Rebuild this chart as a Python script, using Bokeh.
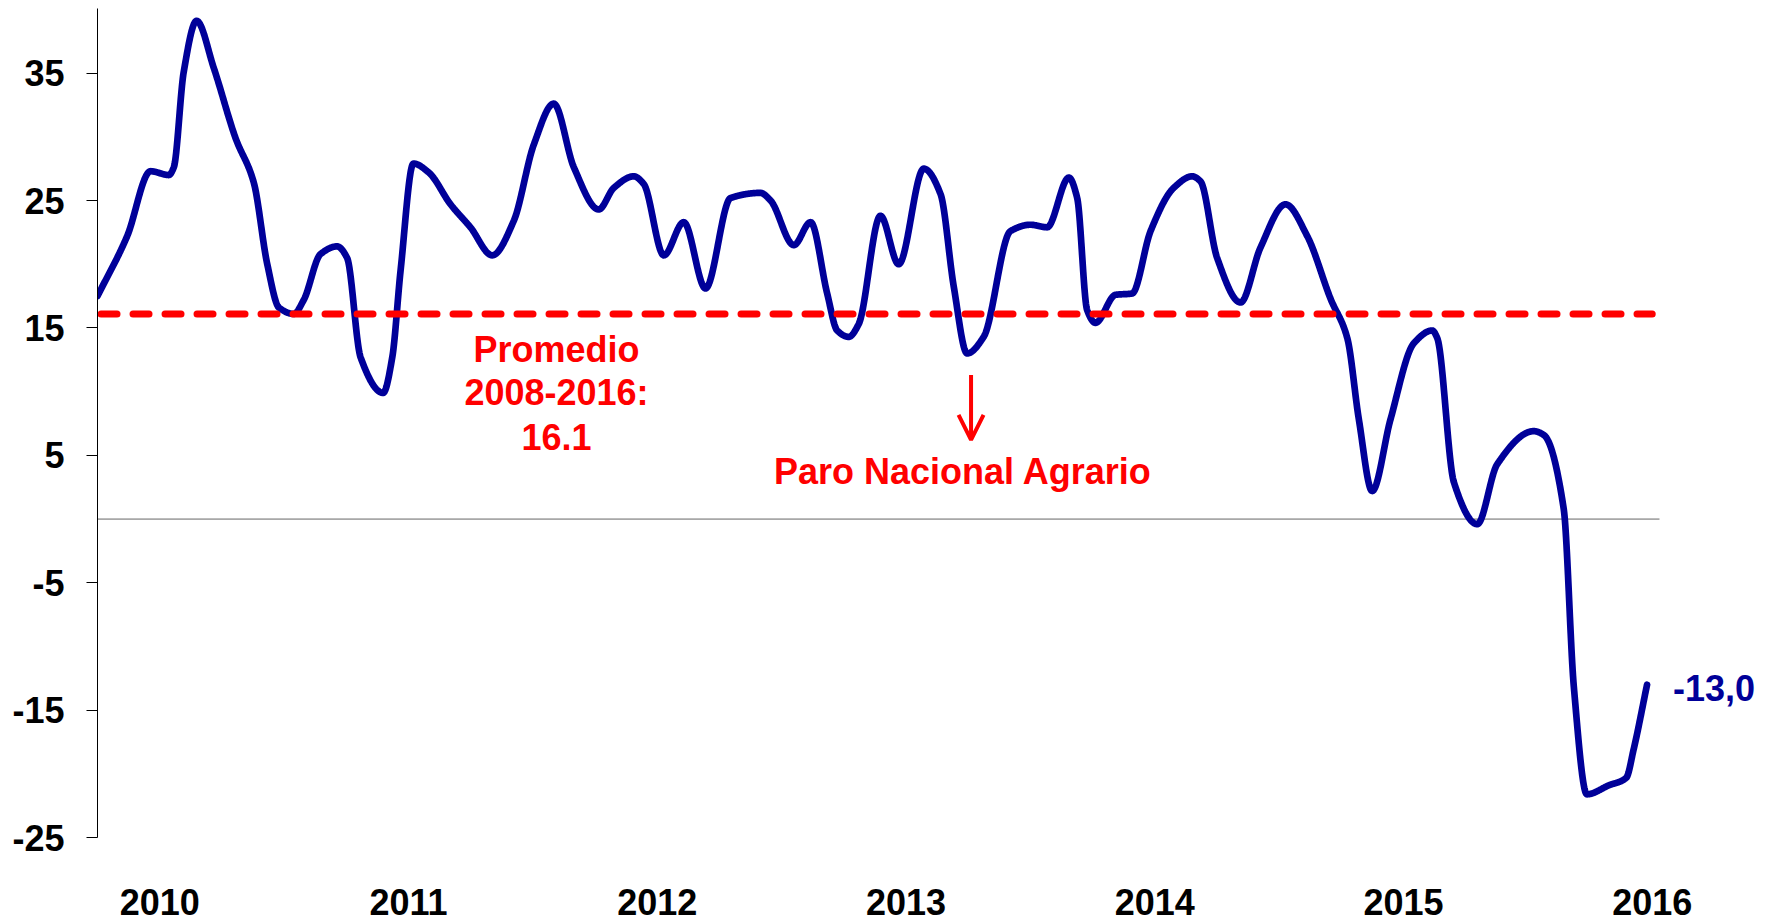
import numpy as np
from bokeh.plotting import figure
from bokeh.models import FixedTicker, Arrow, OpenHead, Range1d
from bokeh.core.properties import value
from bokeh.embed import file_html
from bokeh.resources import INLINE

# ---- data (x = months since Oct-2009) ----
month_pos = [0, 1.43, 2.56, 3.44, 3.68, 4.16, 4.78, 5.61, 6.66, 7.54,
             8.19, 8.75, 9.47, 9.95, 10.76, 11.56, 12.04, 12.69, 13.78, 14.22,
             14.62, 15.24, 15.98, 17.03, 17.99, 19.04, 20.08, 21.05, 22.01, 22.98,
             24.18, 24.91, 25.87, 26.35, 27.32, 28.28, 29.33, 30.54, 31.98, 32.47,
             33.59, 34.4, 35.2, 35.68, 36.24, 36.72, 37.77, 38.65, 39.86, 40.67,
             41.31, 41.95, 42.75, 44.04, 45.0, 45.81, 46.86, 47.26, 47.74, 48.14,
             49.11, 49.91, 50.8, 51.92, 52.81, 53.21, 54.01, 55.14, 56.1, 57.31,
             58.36, 59.48, 60.29, 60.85, 61.49, 62.37, 63.5, 64.39, 64.63, 65.43,
             66.56, 67.52, 69.29, 69.77, 70.73, 71.22, 71.85, 72.9, 73.75, 74.1,
             74.75]
growth = [17.5, 22.2, 27.3, 27.0, 27.6, 35.1, 39.1, 35.4, 29.9, 26.4,
          20.0, 16.6, 16.1, 17.2, 20.8, 21.4, 20.5, 12.7, 9.9, 12.7,
          19.5, 27.9, 27.2, 24.7, 22.9, 20.7, 23.4, 29.4, 32.6, 27.6,
          24.3, 26.0, 26.9, 26.3, 20.7, 23.3, 18.1, 25.2, 25.6, 25.0,
          21.5, 23.3, 17.7, 14.8, 14.3, 15.3, 23.8, 20.0, 27.5, 25.5,
          18.2, 13.0, 14.3, 22.6, 23.1, 22.9, 26.8, 25.2, 16.4, 15.4,
          17.6, 17.7, 22.6, 26.0, 26.9, 26.5, 20.5, 17.0, 21.3, 24.7,
          22.2, 17.3, 14.2, 7.8, 2.2, 7.8, 13.8, 14.8, 14.2, 2.9,
          -0.4, 4.3, 6.9, 6.6, 0.8, -13.2, -21.6, -20.9, -20.3, -18.1,
          -13.0]
average_value = 16.1
average_lines = ["Promedio", "2008-2016:", "16.1"]
event_label = "Paro Nacional Agrario"
last_label = "-13,0"
year_ticks = [3, 15, 27, 39, 51, 63, 75]
year_labels = ["2010", "2011", "2012", "2013", "2014", "2015", "2016"]
y_ticks = [-25, -15, -5, 5, 15, 25, 35]

assert len(month_pos) == len(growth)


def smooth(x, y, n=4000):
    """Monotone cubic (Fritsch-Carlson) smoothing through the points."""
    x = np.asarray(x, float)
    y = np.asarray(y, float)
    h = np.diff(x)
    d = np.diff(y) / h
    m = np.zeros_like(y)
    m[0], m[-1] = d[0], d[-1]
    for k in range(1, len(x) - 1):
        if d[k - 1] * d[k] <= 0:
            m[k] = 0.0
        else:
            w1 = 2 * h[k] + h[k - 1]
            w2 = h[k] + 2 * h[k - 1]
            m[k] = (w1 + w2) / (w1 / d[k - 1] + w2 / d[k])
    xx = np.linspace(x[0], x[-1], n)
    idx = np.clip(np.searchsorted(x, xx) - 1, 0, len(x) - 2)
    t = (xx - x[idx]) / h[idx]
    h00 = 2 * t**3 - 3 * t**2 + 1
    h10 = t**3 - 2 * t**2 + t
    h01 = -2 * t**3 + 3 * t**2
    h11 = t**3 - t**2
    yy = h00 * y[idx] + h10 * h[idx] * m[idx] + h01 * y[idx + 1] + h11 * h[idx] * m[idx + 1]
    return xx, yy


FONT = value("Liberation Sans")
BLUE = "#000099"
RED = "#ff0000"

p = figure(width=1756, height=923,
           x_range=Range1d(0, 80.03), y_range=Range1d(-31.74, 40.07),
           output_backend="svg", toolbar_location=None,
           x_axis_location=None, y_axis_location="left",
           min_border_left=97, min_border_right=0,
           min_border_top=8, min_border_bottom=0)
p.outline_line_color = None
p.background_fill_color = "white"
p.border_fill_color = "white"
for g in p.grid:
    g.grid_line_color = None

ax = p.yaxis[0]
ax.ticker = FixedTicker(ticks=y_ticks)
ax.bounds = (-25, 40.07)
ax.major_tick_out = 11
ax.major_tick_in = 0
ax.minor_tick_out = 0
ax.minor_tick_in = 0
ax.axis_line_color = "black"
ax.axis_line_width = 1
ax.major_tick_line_color = "black"
ax.major_label_text_font = "Liberation Sans"
ax.major_label_text_font_style = "bold"
ax.major_label_text_font_size = "36px"
ax.major_label_text_color = "black"
ax.major_label_standoff = 22
ax.major_label_overrides = {t: str(t) for t in y_ticks}

# zero line
p.segment(x0=[month_pos[0]], y0=[0], x1=[year_ticks[-1] + 0.35], y1=[0],
          line_color="#666666", line_width=1)

# main series (smoothed through the read points)
sx, sy = smooth(month_pos, growth)
p.line(sx, sy, line_color=BLUE, line_width=6.7, line_join="round", line_cap="round")

# average dashed line
p.segment(x0=[month_pos[0] + 0.17], y0=[average_value], x1=[year_ticks[-1]], y1=[average_value],
          line_color=RED, line_width=7, line_dash="16 16", line_cap="round")

# year labels (bottom)
p.text(x=year_ticks, y=[-30.09] * len(year_ticks), text=year_labels,
       text_font=FONT, text_font_style="bold", text_font_size="36px",
       text_color="black", text_align="center", text_baseline="middle")

# average annotation
p.text(x=[22.14] * 3, y=[13.28, 9.90, 6.44], text=average_lines,
       text_font=FONT, text_font_style="bold", text_font_size="36px",
       text_color=RED, text_align="center", text_baseline="middle")

# event annotation
p.text(x=[41.75], y=[3.75], text=[event_label],
       text_font=FONT, text_font_style="bold", text_font_size="36px",
       text_color=RED, text_align="center", text_baseline="middle")
p.add_layout(Arrow(end=OpenHead(size=25, line_color=RED, line_width=4),
                   x_start=42.14, y_start=11.31, x_end=42.14, y_end=6.21,
                   line_color=RED, line_width=4))

# last value label
p.text(x=[month_pos[-1] + 1.25], y=[growth[-1] - 0.28], text=[last_label],
       text_font=FONT, text_font_style="bold", text_font_size="36px",
       text_color=BLUE, text_align="left", text_baseline="middle")

open("out.html", "w").write(file_html(p, INLINE))
